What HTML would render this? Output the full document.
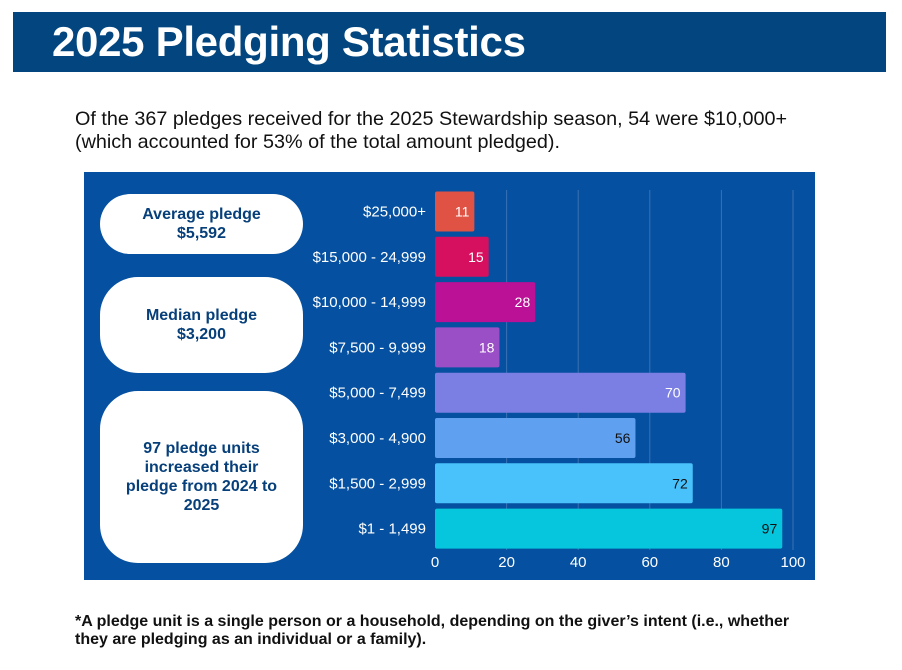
<!DOCTYPE html>
<html><head><meta charset="utf-8"><style>
body{margin:0;width:902px;height:670px;background:#fff;position:relative;overflow:hidden;font-family:"Liberation Sans",sans-serif;}
.hdr{position:absolute;left:13px;top:12px;width:873px;height:60px;background:#03467f;}
.hdr h1{margin:0;position:absolute;left:39px;top:6px;color:#fff;font:bold 42px "Liberation Sans",sans-serif;letter-spacing:-0.3px;}
.intro{position:absolute;left:75px;top:108px;font-size:19.8px;line-height:23px;color:#111;}
.foot{position:absolute;left:75px;top:613px;font-size:16px;font-weight:bold;line-height:18px;color:#111;}
.panel{position:absolute;left:84px;top:172px;width:731px;height:408px;background:#0550a0;}
.pill{position:absolute;left:16px;width:203px;background:#fff;border-radius:38px;color:#063f7a;font:bold 16px "Liberation Sans",sans-serif;display:flex;align-items:center;justify-content:center;text-align:center;line-height:19px;}
</style></head><body>
<div class="hdr"><h1>2025 Pledging Statistics</h1></div>
<div class="intro">Of the 367 pledges received for the 2025 Stewardship season, 54 were $10,000+<br>(which accounted for 53% of the total amount pledged).</div>
<div class="panel">
<div class="pill" style="top:22px;height:60px">Average pledge<br>$5,592</div>
<div class="pill" style="top:105px;height:96px">Median pledge<br>$3,200</div>
<div class="pill" style="top:219px;height:172px">97 pledge units<br>increased their<br>pledge from 2024 to<br>2025</div>
<svg id="chart" width="731" height="408" style="position:absolute;left:0;top:0"></svg>
</div>
<div class="foot">*A pledge unit is a single person or a household, depending on the giver’s intent (i.e., whether<br>they are pledging as an individual or a family).</div>
<script>
const categories=["$25,000+","$15,000 - 24,999","$10,000 - 14,999","$7,500 - 9,999","$5,000 - 7,499","$3,000 - 4,900","$1,500 - 2,999","$1 - 1,499"];
const values=[11,15,28,18,70,56,72,97];
const ticks=[0,20,40,60,80,100];
const colors=["#e05243","#d6105e","#bb1197","#9b4fc6","#7b7fe4","#5fa0f0","#49c1fb","#05c6dc"];
const NS="http://www.w3.org/2000/svg";
const svg=document.getElementById("chart");
const x=v=>351+v*3.58;
const yc=i=>39.5+i*45.3;
function mk(t,a){const e=document.createElementNS(NS,t);for(const k in a)e.setAttribute(k,a[k]);svg.appendChild(e);return e;}
ticks.forEach(t=>{
 if(t>0){const l=mk("line",{x1:x(t),x2:x(t),y1:18,y2:378,stroke:"#3a72b4","stroke-width":1});
 
 }
 const tx=mk("text",{x:x(t),y:395,"text-anchor":"middle",fill:"#fff","font-size":15,"font-family":"Liberation Sans, sans-serif"});
 tx.textContent=t;
 
 
});
categories.forEach((c,i)=>{
 const r=mk("rect",{x:x(0),y:yc(i)-20,width:x(values[i])-x(0),height:40,fill:colors[i],rx:2});
 
 
 const lb=mk("text",{x:342,y:yc(i)+5,"text-anchor":"end",fill:"#fff","font-size":15,"font-family":"Liberation Sans, sans-serif"});
 lb.textContent=c;
 
 
 const v=mk("text",{x:x(values[i])-5,y:yc(i)+5,"text-anchor":"end",fill:i<5?"#fff":"#111","font-size":14,"font-family":"Liberation Sans, sans-serif"});
 v.textContent=values[i];
 
 
});
</script>
</body></html>
